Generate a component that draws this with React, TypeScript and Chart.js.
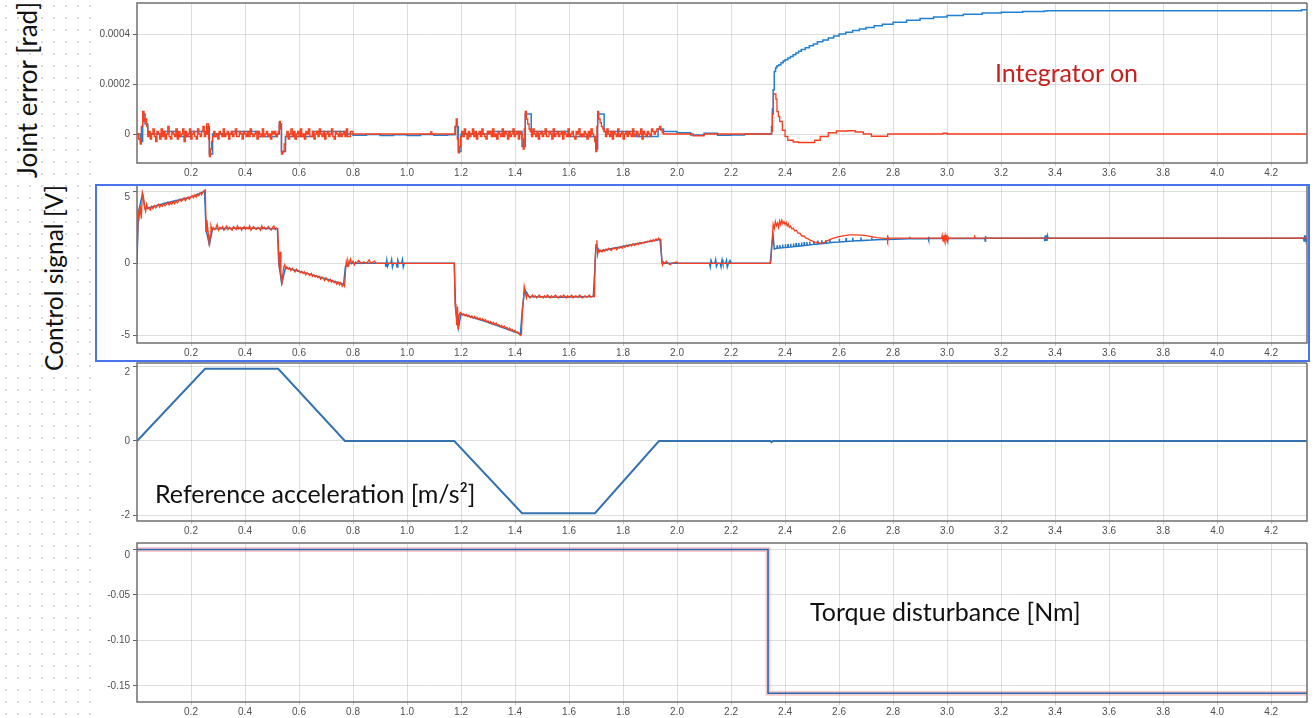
import React, { useEffect, useRef } from "react";
import { Chart, registerables } from "chart.js";

Chart.register(...registerables);
Chart.defaults.font.family = "'Liberation Sans', Arial, sans-serif";
Chart.defaults.font.size = 10;
Chart.defaults.color = "#505050";

type Pt = [number, number];
type Seg = { t0: number; dt: number; v: number[] };
type Part = Pt[] | Seg;

// ---------------- axis ticks ----------------
const X_MAX = 4.333;
const X_TICKS = [0.2, 0.4, 0.6, 0.8, 1.0, 1.2, 1.4, 1.6, 1.8, 2.0, 2.2, 2.4, 2.6, 2.8, 3.0, 3.2, 3.4, 3.6, 3.8, 4.0, 4.2];
const X_TICK_LABELS = ["0.2", "0.4", "0.6", "0.8", "1.0", "1.2", "1.4", "1.6", "1.8", "2.0", "2.2", "2.4", "2.6", "2.8", "3.0", "3.2", "3.4", "3.6", "3.8", "4.0", "4.2"];

const JE_TICKS = [0, 0.0002, 0.0004];
const JE_TICK_LABELS = ["0", "0.0002", "0.0004"];
const CS_TICKS = [-5, 0, 5];
const CS_TICK_LABELS = ["-5", "0", "5"];
const ACC_TICKS = [-2, 0, 2];
const ACC_TICK_LABELS = ["-2", "0", "2"];
const TQ_TICKS = [-0.15, -0.1, -0.05, 0];
const TQ_TICK_LABELS = ["-0.15", "-0.10", "-0.05", "0"];

// ---------------- Joint error [1e-5 rad] ----------------
const JE_UNIT = 1e-5;
const JE_RED: Part[] = [
  [[0, 0], [0.006, -2], [0.012, -4], [0.016, 3], [0.021, 9], [0.026, 5], [0.031, 6], [0.036, 3], [0.04, -1]],
  { t0: 0.044, dt: 0.005, v: [1, -2, 0, 2, -1, -3, 1, 0, -2, 2, -1, 1, -2, 0, 3, -1, -2, 1, 0, -1, 2, -2, 1, -1, 0, 2, -3, 1, -1, 0, 2, -2, 0, 1, -1, -2, 2, 0, -1, 1, 3, -1, 0] },
  [[0.258, 4], [0.262, 4], [0.265, -2], [0.268, -9], [0.272, -6], [0.276, -3], [0.28, -1]],
  { t0: 0.284, dt: 0.005, v: [1, -1, 0, -2, 1, 0, -1, 2, -1, 0, 1, -2, 0, 1, -1, 0, 2, -1, -1, 1, 0, -2, 1, 0, -1, 1, -1, 2, 0, -1, 0, 1, -2, 1, 0, -1, 2, -1, 0, 1, -1, 0, -2, 1, 0, 1, -1, 0] },
  [[0.523, 1], [0.527, 5], [0.531, 2], [0.535, -8], [0.54, -7], [0.545, -4], [0.55, -1]],
  { t0: 0.555, dt: 0.005, v: [1, -2, 0, 2, -1, 1, -2, 0, 1, -1, 2, -1, 0, -2, 1, 0, 2, -1, -1, 1, -2, 0, 1, -1, 2, 0, -1, 1, -2, 0, 1, -1, 0, 2, -1, -2, 1, 0, -1, 1, -1, 0, 1, -1] },
  [[0.775, 2], [0.78, -1], [0.79, 1], [0.8, 0], [1.085, 0], [1.088, 0.8], [1.092, 0], [1.175, 0],
   [1.178, 3], [1.182, 6], [1.186, -2], [1.19, -7.5], [1.194, -5], [1.198, -1]],
  { t0: 1.202, dt: 0.005, v: [1, -1, 2, 0, -2, 1, -1, 0, 2, -1, 1, -2, 0, 1, -1, 2, 0, -1, -2, 1, 0, 1, -1, 2, -1, 0, -2, 1, 0, -1, 2, -1, 1, 0, -2, 1, -1, 0, 2, -1, 0, 1, -2, 1, 0] },
  [[1.426, -2], [1.43, -6], [1.434, 2], [1.438, 9], [1.442, 6], [1.447, 4], [1.452, 2]],
  { t0: 1.456, dt: 0.005, v: [1, -1, 2, 0, -1, 1, -2, 0, 1, -1, 0, 2, -1, -1, 1, 0, -2, 2, -1, 0, 1, -1, 0, 1, -2, 1, 0, -1, 2, -1, 0, 1, -1, -2, 1, 0, 2, -1, 0, -1, 1, 0, -2, 1, -1, 2, 0, -1] },
  [[1.695, -3], [1.699, -7], [1.703, 3], [1.706, 9], [1.71, 6], [1.715, 4.5], [1.72, 3], [1.725, 2]],
  { t0: 1.73, dt: 0.005, v: [1, -1, 2, 0, -1, 1, -2, 1, 0, -1, 2, -1, 0, 1, -2, 0, 1, -1, 1, 0, -1, 2, -1, 0, 1, -1, 0, 2, -2, 1, 0, -1, 1, 0, -1, 2, 1, 0, 1, 2] },
  [[1.93, 2], [1.935, 3], [1.94, 1.5], [1.945, 0.5], [1.95, 0], [2.05, 0], [2.06, -0.7], [2.09, -0.7], [2.1, 0], [2.345, 0],
   [2.35, 1], [2.353, 8], [2.357, 16], [2.362, 16], [2.366, 14], [2.37, 9], [2.375, 7], [2.38, 5], [2.39, 1.5], [2.4, -1],
   [2.41, -2.5], [2.43, -3.2], [2.45, -3.4], [2.49, -3.4], [2.51, -2.5], [2.53, -1], [2.56, 0.5], [2.59, 1.2], [2.63, 1.3],
   [2.66, 0.8], [2.69, 0], [2.72, -0.9], [2.77, -0.9], [2.78, 0], [2.98, 0], [2.985, 0.3], [3.0, 0], [4.333, 0]],
];
const JE_BLUE: Part[] = [
  [[0, 0], [0.012, -3], [0.021, 8], [0.03, 4], [0.04, 0], [0.1, 1], [0.15, -1], [0.2, 1], [0.254, 0], [0.26, 3], [0.268, -8],
   [0.28, 0], [0.35, 1], [0.45, -1], [0.52, 0], [0.527, 4], [0.535, -7], [0.55, -1], [0.65, 1], [0.77, 0], [0.8, -0.5],
   [0.85, -0.2], [0.9, -0.6], [0.95, -0.3], [1.0, -0.6], [1.05, -0.2], [1.1, -0.5], [1.15, -0.3], [1.178, 3], [1.19, -7],
   [1.2, 0], [1.3, 1], [1.426, -5], [1.438, 8], [1.46, 1], [1.6, -1], [1.699, -6], [1.706, 8], [1.73, 1], [1.85, -1],
   [1.93, 2], [1.95, 1], [2.0, 0.5], [2.05, -0.4], [2.1, 0.3], [2.15, -0.5], [2.2, -0.4], [2.25, 0], [2.345, 0],
   [2.35, 3], [2.353, 10], [2.356, 17.7], [2.36, 25], [2.365, 26.5], [2.37, 27.3], [2.377, 27.7], [2.385, 28.5],
   [2.393, 29.2], [2.4, 29.7], [2.41, 30.4], [2.42, 31], [2.43, 31.7], [2.44, 32.4], [2.45, 33.1], [2.46, 33.8],
   [2.475, 34.5], [2.49, 35.3], [2.505, 36], [2.52, 36.9], [2.54, 37.6], [2.56, 38.4], [2.58, 39.2], [2.6, 40],
   [2.625, 40.7], [2.65, 41.4], [2.675, 42], [2.7, 42.6], [2.73, 43.3], [2.76, 43.9], [2.8, 44.7], [2.85, 45.5],
   [2.9, 46.2], [2.95, 46.8], [3.0, 47.4], [3.06, 47.9], [3.13, 48.4], [3.2, 48.7], [3.28, 49], [3.36, 49.2],
   [3.37, 49.3], [4.31, 49.3], [4.313, 49.7], [4.333, 49.7]],
];

// ---------------- Control signal [V] ----------------
const CS_RED: Part[] = [
  [[0, 0], [0.004, 3.6], [0.008, 3.2], [0.012, 4.0], [0.016, 3.1], [0.02, 4.9], [0.024, 4.6], [0.028, 3.9], [0.032, 3.6], [0.036, 4.1], [0.04, 3.8]],
  { t0: 0.044, dt: 0.005, v: [3.85, 3.7, 3.95, 3.8, 4.0, 3.85, 3.95, 4.1, 3.9, 4.05, 3.95, 4.15, 4.0, 4.1, 4.25, 4.05, 4.2, 4.1, 4.3, 4.15, 4.35, 4.2, 4.3, 4.45, 4.3, 4.4, 4.55, 4.35, 4.5, 4.6, 4.45, 4.6, 4.7, 4.55, 4.75, 4.6, 4.8, 4.7, 4.9, 4.75, 4.95, 5.05] },
  [[0.253, 5.1], [0.256, 2.2], [0.259, 3.0], [0.262, 2.4], [0.265, 1.9], [0.268, 1.2], [0.271, 2.0], [0.274, 2.6], [0.278, 2.3]],
  { t0: 0.282, dt: 0.005, v: [2.5, 2.35, 2.45, 2.7, 2.3, 2.5, 2.4, 2.55, 2.3, 2.45, 2.6, 2.35, 2.5, 2.4, 2.3, 2.55, 2.45, 2.35, 2.6, 2.4, 2.5, 2.3, 2.45, 2.55, 2.35, 2.5, 2.4, 2.6, 2.3, 2.45, 2.55, 2.4, 2.35, 2.5, 2.45, 2.3, 2.6, 2.4, 2.5, 2.35, 2.45, 2.55, 2.4, 2.3, 2.5, 2.6, 2.35, 2.45] },
  [[0.521, 2.4], [0.524, 1.0], [0.527, -0.3], [0.53, 0.8], [0.533, -0.6], [0.536, -1.5], [0.539, -0.9], [0.543, -0.3], [0.547, -0.1], [0.551, -0.4]],
  { t0: 0.555, dt: 0.005, v: [-0.25, -0.4, -0.3, -0.5, -0.35, -0.45, -0.6, -0.4, -0.55, -0.5, -0.65, -0.55, -0.7, -0.6, -0.8, -0.65, -0.75, -0.85, -0.7, -0.9, -0.8, -0.95, -0.85, -1.0, -0.9, -1.1, -0.95, -1.05, -1.2, -1.0, -1.15, -1.25, -1.1, -1.3, -1.2, -1.35, -1.25, -1.45, -1.3, -1.5, -1.35, -1.6, -1.45] },
  [[0.769, -1.6], [0.772, -0.6], [0.775, 0.1], [0.778, -0.2], [0.781, 0.2], [0.785, -0.1], [0.79, 0.3], [0.795, 0], [0.8, 0.15], [0.805, -0.1], [0.81, 0.1], [0.815, 0], [0.82, 0.2], [0.83, 0], [0.84, 0.1], [0.85, 0], [0.86, 0.25], [0.865, 0], [0.88, 0.15], [0.885, 0], [1.175, 0],
   [1.178, -2.8], [1.181, -3.3], [1.184, -4.3], [1.187, -3.0], [1.19, -4.6], [1.193, -3.6], [1.197, -3.4]],
  { t0: 1.2, dt: 0.005, v: [-3.45, -3.6, -3.5, -3.65, -3.55, -3.7, -3.6, -3.75, -3.65, -3.8, -3.7, -3.85, -3.75, -3.9, -3.8, -3.95, -3.85, -4.0, -3.9, -4.05, -4.0, -4.15, -4.05, -4.2, -4.1, -4.25, -4.15, -4.3, -4.25, -4.4, -4.3, -4.45, -4.35, -4.5, -4.45, -4.6, -4.5, -4.65, -4.6, -4.75, -4.65, -4.8, -4.75, -4.9, -5.0] },
  [[1.424, -4.9], [1.427, -3.4], [1.43, -2.8], [1.434, -1.6], [1.438, -2.0], [1.442, -2.4], [1.446, -2.1]],
  { t0: 1.45, dt: 0.005, v: [-2.25, -2.4, -2.3, -2.2, -2.35, -2.25, -2.4, -2.3, -2.2, -2.35, -2.3, -2.4, -2.25, -2.35, -2.2, -2.3, -2.4, -2.25, -2.35, -2.3, -2.2, -2.35, -2.4, -2.3, -2.25, -2.35, -2.2, -2.3, -2.4, -2.25, -2.35, -2.3, -2.2, -2.4, -2.3, -2.25, -2.35, -2.3, -2.2, -2.35, -2.4, -2.3, -2.25, -2.35, -2.3, -2.2, -2.35, -2.3, -2.25] },
  [[1.694, -2.3], [1.697, 0.4], [1.7, 1.3], [1.703, 1.6], [1.706, 0.6], [1.709, 0.9], [1.713, 0.8]],
  { t0: 1.717, dt: 0.005, v: [0.9, 0.8, 0.95, 0.85, 1.0, 0.9, 1.05, 0.95, 0.9, 1.05, 1.0, 1.1, 0.95, 1.1, 1.05, 1.15, 1.05, 1.2, 1.1, 1.25, 1.15, 1.2, 1.3, 1.2, 1.35, 1.25, 1.3, 1.4, 1.3, 1.45, 1.35, 1.45, 1.4, 1.5, 1.45, 1.55, 1.5, 1.6, 1.5, 1.65, 1.55, 1.7, 1.6, 1.75, 1.65] },
  [[1.94, 1.7], [1.943, 0.3], [1.946, -0.1], [1.95, 0.1], [1.955, 0], [1.96, 0.15], [1.965, 0], [1.975, -0.1], [1.98, 0], [2.0, 0.1], [2.005, 0], [2.345, 0],
   [2.348, 0.2], [2.352, 1.6], [2.356, 2.7], [2.36, 2.4], [2.364, 2.9], [2.368, 2.6], [2.372, 2.8], [2.376, 2.5], [2.38, 2.95], [2.384, 2.7], [2.388, 3.0], [2.392, 2.75], [2.396, 2.9], [2.4, 2.7], [2.404, 2.85], [2.408, 2.6], [2.412, 2.75], [2.416, 2.5], [2.42, 2.6], [2.425, 2.4], [2.43, 2.45], [2.436, 2.25], [2.442, 2.3], [2.448, 2.1], [2.455, 2.1], [2.462, 1.9], [2.47, 1.9], [2.478, 1.75], [2.486, 1.7], [2.494, 1.6], [2.502, 1.55], [2.51, 1.45], [2.52, 1.45], [2.53, 1.4], [2.54, 1.42], [2.55, 1.5], [2.56, 1.6], [2.57, 1.68], [2.58, 1.75], [2.6, 1.85], [2.62, 1.93], [2.64, 1.97], [2.66, 1.98], [2.68, 1.96], [2.7, 1.92], [2.72, 1.85], [2.74, 1.78], [2.76, 1.75], [2.778, 1.72], [2.779, 1.95], [2.781, 1.55], [2.783, 1.75],
   [2.98, 1.75], [2.982, 1.95], [2.985, 1.55], [2.988, 1.95], [2.99, 1.6], [2.993, 1.95], [2.996, 1.55], [3.0, 1.9], [3.003, 1.6], [3.006, 1.75], [3.1, 1.75], [3.102, 1.95], [3.104, 1.75], [4.333, 1.75]],
];
const CS_BLUE: Part[] = [
  [[0, 0], [0.005, 3.5], [0.02, 4.8], [0.03, 3.8], [0.1, 4.15], [0.2, 4.6], [0.25, 5.0], [0.256, 2.3], [0.268, 1.3], [0.28, 2.4], [0.4, 2.45], [0.52, 2.4],
   [0.525, 0], [0.536, -1.4], [0.55, -0.3], [0.65, -0.8], [0.765, -1.45], [0.772, -0.2], [0.78, 0], [0.92, 0], [0.922, -0.25], [0.925, 0.2], [0.928, -0.2],
   [0.932, 0], [0.94, 0], [0.943, 0.25], [0.946, -0.25], [0.95, 0], [0.96, 0], [0.963, -0.25], [0.966, 0.2], [0.97, 0], [0.98, 0], [0.983, 0.25],
   [0.986, -0.25], [0.99, 0], [1.175, 0], [1.18, -3.2], [1.19, -4.5], [1.2, -3.5], [1.3, -4.1], [1.42, -4.9], [1.428, -3.0], [1.436, -1.8], [1.45, -2.3],
   [1.57, -2.35], [1.69, -2.3], [1.7, 1.2], [1.715, 0.85], [1.82, 1.25], [1.937, 1.65], [1.945, 0], [2.12, 0], [2.123, -0.25], [2.126, 0.2], [2.13, 0],
   [2.14, 0], [2.143, 0.25], [2.146, -0.2], [2.15, 0], [2.16, 0], [2.163, -0.25], [2.167, 0.25], [2.17, 0], [2.18, 0], [2.183, 0.2], [2.186, -0.25],
   [2.19, 0], [2.196, 0.2], [2.2, 0], [2.345, 0], [2.352, 1.5], [2.356, 1.9], [2.36, 1.0],
   [2.37, 1.05], [2.371, 1.25], [2.372, 1.05], [2.38, 1.07], [2.381, 1.27], [2.382, 1.07], [2.39, 1.09], [2.391, 1.3], [2.392, 1.09], [2.4, 1.1],
   [2.401, 1.32], [2.402, 1.1], [2.41, 1.12], [2.411, 1.34], [2.412, 1.12], [2.42, 1.14], [2.421, 1.36], [2.422, 1.14], [2.43, 1.16], [2.431, 1.38],
   [2.432, 1.16], [2.44, 1.18], [2.441, 1.4], [2.442, 1.18], [2.45, 1.2], [2.451, 1.42], [2.452, 1.2], [2.46, 1.22], [2.461, 1.45], [2.462, 1.22],
   [2.47, 1.24], [2.471, 1.47], [2.472, 1.24], [2.48, 1.26], [2.481, 1.48], [2.482, 1.26], [2.49, 1.28], [2.491, 1.5], [2.492, 1.28], [2.5, 1.3],
   [2.505, 1.31], [2.506, 1.55], [2.507, 1.31], [2.52, 1.34], [2.521, 1.58], [2.522, 1.34], [2.535, 1.37], [2.536, 1.6], [2.537, 1.37], [2.55, 1.4],
   [2.551, 1.62], [2.552, 1.4], [2.565, 1.43], [2.566, 1.65], [2.567, 1.43], [2.58, 1.46], [2.6, 1.48], [2.601, 1.7], [2.602, 1.48], [2.625, 1.52],
   [2.626, 1.75], [2.627, 1.52], [2.65, 1.55], [2.651, 1.78], [2.652, 1.55], [2.68, 1.58], [2.681, 1.8], [2.682, 1.58], [2.72, 1.62], [2.721, 1.82],
   [2.722, 1.62], [2.76, 1.65], [2.78, 1.66], [2.781, 1.85], [2.782, 1.66], [2.86, 1.7], [2.861, 1.85], [2.862, 1.7], [2.93, 1.72], [2.931, 1.6],
   [2.932, 1.85], [2.933, 1.72], [3.0, 1.73], [3.001, 1.6], [3.002, 1.85], [3.003, 1.73], [3.14, 1.75], [3.141, 1.55], [3.142, 1.9], [3.143, 1.75],
   [3.36, 1.75], [3.362, 1.55], [3.364, 1.95], [3.366, 1.55], [3.368, 1.95], [3.37, 1.55], [3.372, 1.9], [3.374, 1.75], [4.32, 1.75], [4.322, 1.55],
   [4.324, 1.95], [4.326, 1.55], [4.328, 1.95], [4.33, 1.55], [4.333, 1.75]],
];

// ---------------- Reference acceleration [m/s^2] ----------------
const ACC_REF: Part[] = [
  [[0, 0], [0.252, 1.94], [0.523, 1.94], [0.77, 0], [1.175, 0], [1.426, -1.94], [1.696, -1.94], [1.933, 0], [2.346, 0], [2.35, -0.03], [2.356, 0], [4.333, 0]],
];

// ---------------- Torque disturbance [Nm] ----------------
const TQ: Part[] = [
  [[0, 0], [2.337, 0], [2.337, -0.158], [4.333, -0.158]],
];

// ---------------- styles ----------------
const RED = "rgb(248,62,28)";
const BLUE = "rgb(34,128,208)";
const GRID = "rgba(0,0,0,0.13)";

function build(parts: Part[], scale = 1) {
  const out: { x: number; y: number }[] = [];
  for (const p of parts) {
    if (Array.isArray(p)) {
      for (const [x, y] of p) out.push({ x, y: y * scale });
    } else {
      p.v.forEach((y, i) => out.push({ x: p.t0 + i * p.dt, y: y * scale }));
    }
  }
  return out;
}

function makeFrame(drawTop: boolean) {
  return {
    id: "frame",
    afterDatasetsDraw(chart: any) {
      const { ctx, chartArea: a } = chart;
      ctx.save();
      ctx.strokeStyle = "#6f6f6f";
      ctx.lineWidth = 1.5;
      ctx.beginPath();
      ctx.moveTo(a.right, a.top);
      ctx.lineTo(a.right, a.bottom);
      ctx.lineTo(a.left, a.bottom);
      ctx.lineTo(a.left, a.top);
      if (drawTop) ctx.lineTo(a.right, a.top);
      ctx.stroke();
      ctx.restore();
    },
  };
}

type Panel = {
  top: number;
  height: number;
  padTop: number;
  xAxisH: number;
  yMin: number;
  yMax: number;
  yTicks: number[];
  yLabels: string[];
  frameTop: boolean;
  dropTopLabel: boolean;
  datasets: () => any[];
};

const PANELS: Panel[] = [
  {
    top: 0, height: 185, padTop: 3, xAxisH: 22, yMin: -0.000116, yMax: 0.000524,
    yTicks: JE_TICKS, yLabels: JE_TICK_LABELS, frameTop: true, dropTopLabel: false,
    datasets: () => [
      { label: "error (red)", data: build(JE_RED, JE_UNIT), borderColor: RED, borderWidth: 1.3, stepped: true },
      { label: "error (blue)", data: build(JE_BLUE, JE_UNIT), borderColor: BLUE, borderWidth: 1.5, stepped: true },
    ],
  },
  {
    top: 185, height: 177, padTop: 1, xAxisH: 19, yMin: -5.53, yMax: 5.37,
    yTicks: CS_TICKS, yLabels: CS_TICK_LABELS, frameTop: false, dropTopLabel: true,
    datasets: () => [
      { label: "control (red)", data: build(CS_RED), borderColor: RED, borderWidth: 1.3 },
      { label: "control (blue)", data: build(CS_BLUE), borderColor: "rgb(30,118,200)", borderWidth: 1.5 },
    ],
  },
  {
    top: 362, height: 178, padTop: 1, xAxisH: 19, yMin: -2.148, yMax: 2.094,
    yTicks: ACC_TICKS, yLabels: ACC_TICK_LABELS, frameTop: true, dropTopLabel: true,
    datasets: () => [
      { label: "acc", data: build(ACC_REF), borderColor: "rgb(52,114,176)", borderWidth: 2 },
    ],
  },
  {
    top: 540, height: 178, padTop: 3, xAxisH: 16, yMin: -0.1676, yMax: 0.00714,
    yTicks: TQ_TICKS, yLabels: TQ_TICK_LABELS, frameTop: true, dropTopLabel: true,
    datasets: () => [
      { label: "torque (blue)", data: build(TQ), borderColor: "rgb(40,105,180)", borderWidth: 1.6 },
      { label: "torque (red)", data: build(TQ), borderColor: "rgba(232,90,90,0.32)", borderWidth: 5 },
    ],
  },
];

function makeConfig(p: Panel): any {
  return {
    type: "line",
    data: { datasets: p.datasets() },
    options: {
      animation: false,
      responsive: false,
      maintainAspectRatio: false,
      events: [],
      layout: { padding: { left: 0, right: 8, top: p.padTop, bottom: 0 } },
      plugins: { legend: { display: false }, tooltip: { enabled: false } },
      elements: {
        point: { radius: 0 },
        line: { tension: 0, fill: false, borderJoinStyle: "miter" },
      },
      scales: {
        x: {
          type: "linear",
          min: 0,
          max: X_MAX,
          afterBuildTicks: (s: any) => {
            s.ticks = X_TICKS.map((v) => ({ value: v }));
          },
          afterFit: (s: any) => {
            s.height = p.xAxisH;
            s.paddingLeft = 0;
            s.paddingRight = 0;
          },
          ticks: {
            autoSkip: false,
            maxRotation: 0,
            minRotation: 0,
            padding: 1,
            callback: (_v: any, i: number) => X_TICK_LABELS[i],
          },
          grid: { color: GRID, lineWidth: 1, tickLength: 3, tickColor: "#c8c8c8" },
          border: { display: false },
        },
        y: {
          type: "linear",
          min: p.yMin,
          max: p.yMax,
          afterBuildTicks: (s: any) => {
            s.ticks = p.yTicks.map((v) => ({ value: v }));
          },
          afterFit: (s: any) => {
            s.width = 42;
            s.paddingTop = 0;
            s.paddingBottom = 0;
          },
          ticks: {
            padding: 3,
            callback: (_v: any, i: number) => {
              const lab = p.yLabels[i];
              // the top-most label sits just below its tick, as in the original
              return p.dropTopLabel && i === p.yTicks.length - 1 ? ["", lab] : lab;
            },
          },
          grid: { color: GRID, lineWidth: 1, tickLength: 4, tickColor: "#666" },
          border: { display: false },
        },
      },
    },
    plugins: [makeFrame(p.frameTop)],
  };
}

const TEXT_FONT = "Lato, 'Open Sans', sans-serif";

export default function App() {
  const r0 = useRef<HTMLCanvasElement>(null);
  const r1 = useRef<HTMLCanvasElement>(null);
  const r2 = useRef<HTMLCanvasElement>(null);
  const r3 = useRef<HTMLCanvasElement>(null);
  const refs = [r0, r1, r2, r3];

  useEffect(() => {
    const charts = PANELS.map((p, i) => new Chart(refs[i].current as HTMLCanvasElement, makeConfig(p)));
    return () => charts.forEach((c) => c.destroy());
  }, []);

  const vText = (text: string, cx: number, cy: number, size: number): React.ReactNode => (
    <div
      style={{
        position: "absolute",
        left: cx,
        top: cy,
        transform: "translate(-50%, -50%) rotate(-90deg)",
        whiteSpace: "nowrap",
        fontFamily: TEXT_FONT,
        fontSize: size,
        lineHeight: 1,
        color: "#111",
      }}
    >
      {text}
    </div>
  );

  const hText = (text: string, left: number, cy: number, color: string, size: number): React.ReactNode => (
    <div
      style={{
        position: "absolute",
        left,
        top: cy,
        transform: "translateY(-50%)",
        whiteSpace: "nowrap",
        fontFamily: TEXT_FONT,
        fontSize: size,
        lineHeight: 1,
        color,
      }}
    >
      {text}
    </div>
  );

  return (
    <div
      style={{
        position: "absolute",
        left: 0,
        top: 0,
        width: 1315,
        height: 718,
        overflow: "hidden",
        background: "#fff",
      }}
    >
      <div
        style={{
          position: "absolute",
          left: 0,
          top: 0,
          width: 95,
          height: 718,
          backgroundImage: "radial-gradient(circle, #dadada 0.7px, transparent 1.2px)",
          backgroundSize: "12px 12px",
        }}
      />
      {PANELS.map((p, i) => (
        <canvas
          key={i}
          ref={refs[i]}
          width={1220}
          height={p.height}
          style={{ position: "absolute", left: 95, top: p.top, width: 1220, height: p.height, display: "block" }}
        />
      ))}
      <div
        style={{
          position: "absolute",
          left: 95,
          top: 184,
          width: 1215,
          height: 178,
          boxSizing: "border-box",
          border: "2px solid #4a74ee",
          pointerEvents: "none",
        }}
      />
      {vText("Joint error [rad]", 27, 90, 26)}
      {vText("Control signal [V]", 54, 278, 24.5)}
      {hText("Integrator on", 995, 72, "#c8201e", 25)}
      {hText("Reference acceleration [m/s²]", 155, 493, "#111", 25)}
      {hText("Torque disturbance [Nm]", 810, 611, "#111", 25)}
    </div>
  );
}
